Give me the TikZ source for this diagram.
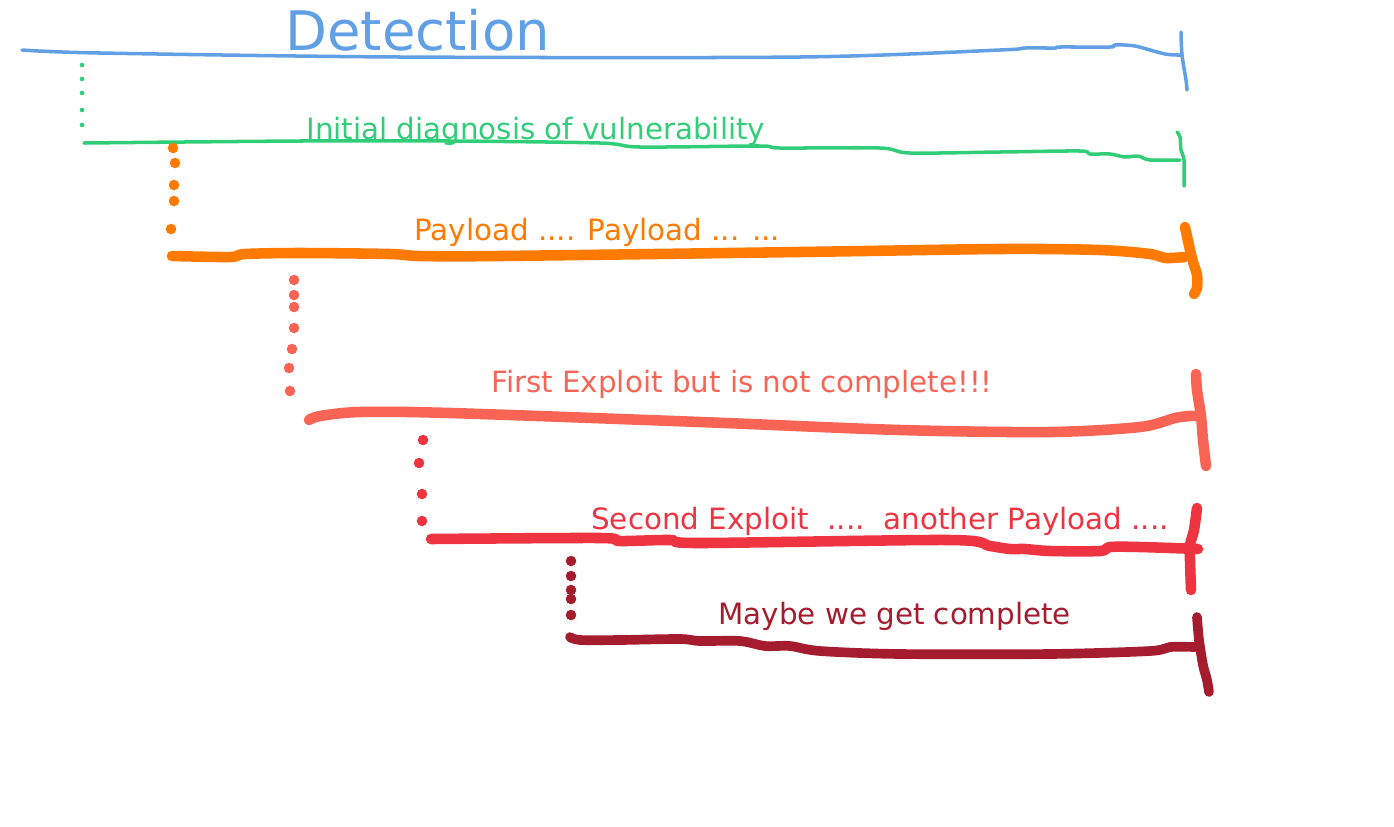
\documentclass[tikz,border=0pt]{standalone}
\usepackage{fontspec}
\setmainfont{DejaVu Sans}
\usetikzlibrary{positioning}
\definecolor{detC}{RGB}{98,160,230}
\definecolor{diagC}{RGB}{50,205,120}
\definecolor{payC}{RGB}{255,122,0}
\definecolor{firstC}{RGB}{249,100,84}
\definecolor{secondC}{RGB}{238,52,64}
\definecolor{maybeC}{RGB}{165,28,46}
\tikzset{
  pen/.style={line width=2pt,line cap=round,line join=round},
  fat/.style={line width=6pt,line cap=round,line join=round},
  lbl/.style={font=\fontsize{16.7}{20}\selectfont,inner sep=0pt,anchor=base west},
}

\begin{document}
\begin{tikzpicture}[x=0.02cm,y=-0.02cm]
  \useasboundingbox (0,0) rectangle (1394,826);
  % detection
  \node[lbl,detC,font=\fontsize{31}{36}\selectfont] (detect) at (285,50) {Detection};
  \draw[pen,detC] plot[smooth,tension=0.5] coordinates {(22,50) (100,53) (400,57) (800,57)
    (1000,50) (1025,48) (1055,48) (1060,47) (1110,47) (1115,45) (1135,46) (1165,54) (1182,55)};
  \draw[pen,detC] plot[smooth,tension=0.5] coordinates {(1181,32) (1182,55) (1186,80) (1187,90)};
  \foreach \y in {65,79,93,110,125}
    \fill[diagC] (82,\y) circle[radius=1.3pt];
  % initial diagnosis
  \node[lbl,diagC] (diag) at (306,139) {Initial diagnosis of vulnerability};
  \draw[pen,diagC] plot[smooth,tension=0.5] coordinates {(84,143) (300,141) (450,141) (600,143)
    (640,147) (760,146) (780,148) (880,148) (910,153) (1000,152) (1080,151) (1090,154)
    (1110,154) (1125,157) (1138,156) (1150,160) (1180,160)};
  \draw[pen,diagC] plot[smooth,tension=0.5] coordinates {(1177,132) (1180,137) (1181,150) (1184,160) (1184,186)};
  \foreach \p in {(173,148),(175,163),(174,185),(174,201),(171,229)}
    \fill[payC] \p circle[radius=3pt];
  % payload
  \node[lbl,payC] (pay) at (414,240) {Payload .... Payload ... ...};
  \draw[fat,payC] plot[smooth,tension=0.5] coordinates {(172,256) (230,257) (245,254) (300,253)
    (390,254) (420,256) (500,256) (800,252) (1000,249) (1100,250) (1150,254) (1165,258) (1185,257)};
  \draw[fat,payC] plot[smooth,tension=0.5] coordinates {(1185,227) (1190,250) (1193,262) (1197,275) (1197,288) (1194,294)};
  \foreach \p in {(294,280),(294,295),(294,307),(294,328),(292,349),(289,368),(290,391)}
    \fill[firstC] \p circle[radius=3pt];
  % first exploit
  \node[lbl,firstC] (first) at (491,392) {First Exploit but is not complete!!!};
  \draw[fat,firstC] plot[smooth,tension=0.5] coordinates {(309,420) (320,416) (360,412) (450,413)
    (700,422) (900,430) (1050,432) (1140,427) (1175,418) (1190,416) (1200,416)};
  \draw[fat,firstC] plot[smooth,tension=0.5] coordinates {(1196,374) (1197,390) (1201,416) (1203,440) (1206,466)};
  \foreach \p in {(423,440),(419,463),(422,494),(422,521)}
    \fill[secondC] \p circle[radius=3pt];
  % second exploit
  \node[lbl,secondC] (second) at (591,529) {Second Exploit\ \ ....\ \ another Payload ....};
  \draw[fat,secondC] plot[smooth,tension=0.5] coordinates {(431,539) (600,538) (620,541) (670,540)
    (700,543) (950,540) (990,546) (1010,549) (1025,549) (1050,551) (1100,551) (1110,547)
    (1140,547) (1198,549)};
  \draw[fat,secondC] plot[smooth,tension=0.5] coordinates {(1197,508) (1194,530) (1190,545) (1190,560) (1191,590)};
  \foreach \p in {(571,561),(571,576),(571,590),(571,599),(571,615)}
    \fill[maybeC] \p circle[radius=3pt];
  % maybe complete
  \node[lbl,maybeC] (maybe) at (718,624) {Maybe we get complete};
  \draw[fat,maybeC,line width=5.5pt] plot[smooth,tension=0.5] coordinates {(570,637) (580,640) (620,640)
    (680,639) (700,641) (740,641) (765,646) (790,646) (820,651) (900,654) (1050,654)
    (1150,651) (1170,647) (1195,647)};
  \draw[fat,maybeC,line width=5.5pt] plot[smooth,tension=0.5] coordinates {(1197,617) (1199,640) (1203,665) (1207,680) (1209,692)};
\end{tikzpicture}
\end{document}
